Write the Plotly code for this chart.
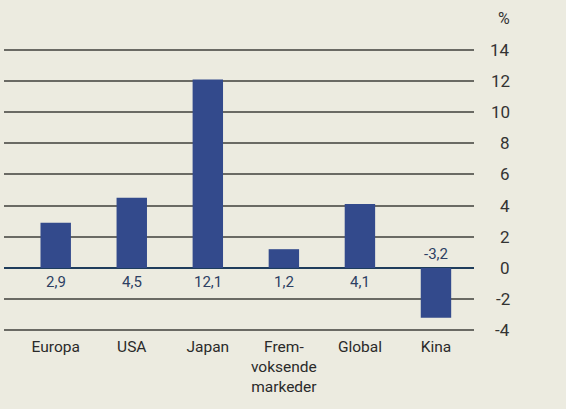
import plotly.graph_objects as go

categories = ["Europa", "USA", "Japan", "Frem-<br>voksende<br>markeder", "Global", "Kina"]
values = [2.9, 4.5, 12.1, 1.2, 4.1, -3.2]
value_labels = ["2,9", "4,5", "12,1", "1,2", "4,1", "-3,2"]
y_ticks = [-4, -2, 0, 2, 4, 6, 8, 10, 12, 14]

bg = "#ECEBE0"
bar_color = "#334A8C"
font = "Roboto"

fig = go.Figure()
fig.add_trace(go.Bar(
    x=list(range(len(categories))),
    y=values,
    width=0.4,
    marker=dict(color=bar_color, line=dict(width=0)),
    hoverinfo="skip",
))

# value labels: below zero line for positive bars, above for negative
for i, (v, lab) in enumerate(zip(values, value_labels)):
    fig.add_annotation(
        x=i, y=0, text=lab, showarrow=False,
        yanchor="top" if v >= 0 else "bottom",
        yshift=-3 if v >= 0 else 3,
        font=dict(family=font, size=15, color="#2d3f63"),
    )

# right-aligned tick labels
for t in y_ticks:
    fig.add_annotation(
        x=1, xref="paper", y=t, text=str(t), showarrow=False,
        xanchor="right", xshift=38,
        font=dict(family=font, size=17, color="#333333"),
    )
fig.add_annotation(
    x=1, xref="paper", y=14, text="%", showarrow=False,
    xanchor="right", xshift=38, yanchor="bottom", yshift=20,
    font=dict(family=font, size=16, color="#333333"),
)

fig.update_layout(
    width=566, height=409,
    paper_bgcolor=bg, plot_bgcolor=bg,
    margin=dict(l=4, r=92, t=42, b=71),
    showlegend=False,
    xaxis=dict(
        tickmode="array",
        tickvals=list(range(len(categories))),
        ticktext=categories,
        range=[-0.68, 5.5],
        showgrid=False, zeroline=False, showline=False,
        ticks="", ticklabelstandoff=-3,
        tickfont=dict(family=font, size=15.5, color="#2a2a2a"),
    ),
    yaxis=dict(
        range=[-4.5, 14.5],
        tickvals=y_ticks,
        showticklabels=False,
        showgrid=True, gridcolor="#6a6a64", gridwidth=1.5,
        zeroline=True, zerolinecolor="#1f3d5c", zerolinewidth=1.5,
        showline=False,
    ),
)

fig.write_html("out.html", config={"displayModeBar": False},
               post_script="document.body.style.margin='0';")
